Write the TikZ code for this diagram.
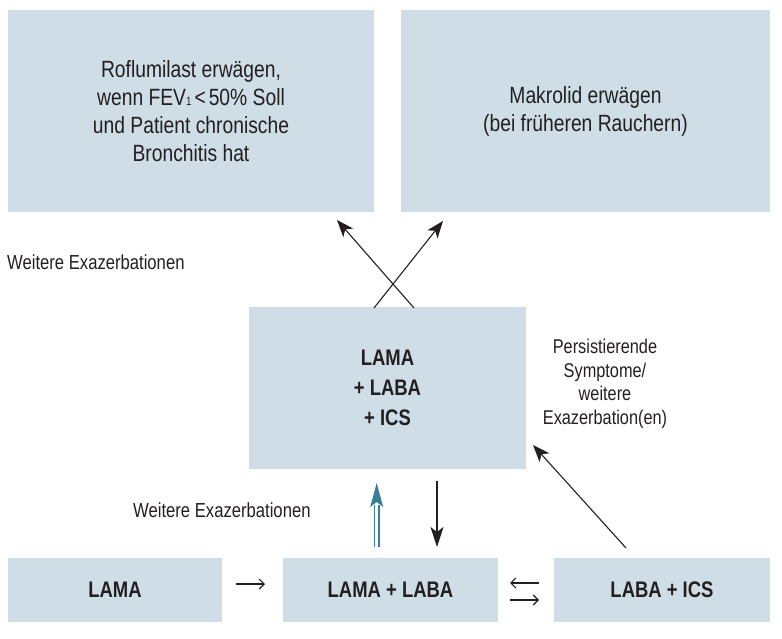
\documentclass[tikz,border=0pt]{standalone}
\usepackage{fontspec}
\setmainfont[FakeStretch=0.82]{Liberation Sans}
\usetikzlibrary{arrows.meta,calc}
\definecolor{boxfill}{HTML}{CFDEE6}
\definecolor{arrowteal}{HTML}{3A7D98}
\definecolor{txt}{HTML}{231F20}
\begin{document}
\begin{tikzpicture}[x=1pt,y=-1pt,
  box/.style={fill=boxfill, draw=none, inner sep=0pt, align=center, text=txt},
  toptext/.style={font=\fontsize{23.5}{28}\selectfont},
  boldtext/.style={font=\fontsize{22.5}{30}\selectfont\bfseries},
  lbl/.style={font=\fontsize{20.3}{23.5}\selectfont, text=txt, inner sep=0pt, align=center},
  arr/.style={line width=1.1pt, draw=txt, -{Stealth[length=17pt,width=13pt,inset=4.5pt]}},
  smallarr/.style={line width=1.1pt, draw=txt, -{Straight Barb[length=5pt,width=10pt]}}]
\useasboundingbox (0,0) rectangle (782,639);

% boxes
\node[box, toptext, minimum width=366pt, minimum height=202pt] (tl) at (191,111)
  {Roflumilast erwägen,\\ wenn FEV{\fontsize{12}{12}\selectfont 1}\hspace{3pt}<\hspace{3pt}50\% Soll\\ und Patient chronische\\ Bronchitis hat};
\node[box, toptext, minimum width=369pt, minimum height=202pt] (tr) at (585.5,111)
  {Makrolid erwägen\\ (bei früheren Rauchern)};
\node[box, boldtext, minimum width=277pt, minimum height=162pt] (mid) at (387.5,388)
  {LAMA\\ + LABA\\ + ICS};
\node[box, boldtext, minimum width=214pt, minimum height=64pt] (b1) at (115,590) {LAMA};
\node[box, boldtext, minimum width=215pt, minimum height=64pt] (b2) at (390.5,590) {LAMA + LABA};
\node[box, boldtext, minimum width=216pt, minimum height=64pt] (b3) at (662,590) {LABA + ICS};

% labels
\node[lbl, anchor=west] (l1) at (7,262) {Weitere Exazerbationen};
\node[lbl, anchor=west] (l2) at (133,510) {Weitere Exazerbationen};
\node[lbl, font=\fontsize{19.9}{23.5}\selectfont] (l3) at (605,384) {Persistierende\\ Symptome/\\ weitere\\ Exazerbation(en)};

% connector end points
\coordinate (xA) at (414,308);
\coordinate (xAe) at (337,220);
\coordinate (xB) at (374,308);
\coordinate (xBe) at (443,221);
\coordinate (dS) at (437,481);
\coordinate (dE) at (437,547);
\coordinate (uS) at (376.7,547);
\coordinate (uE) at (376.7,505);
\coordinate (uT) at (376.7,483);
\coordinate (gS) at (626,548);
\coordinate (gE) at (533,445);
\coordinate (h1S) at (236,584);
\coordinate (h1E) at (265,584);
\coordinate (h2S) at (539,583);
\coordinate (h2E) at (510,583);
\coordinate (h3S) at (510,600);
\coordinate (h3E) at (539,600);

% arrows
\draw[arr] (xA) -- (xAe);
\draw[arr] (xB) -- (xBe);
\draw[arr, -{Stealth[length=20pt,width=13pt,inset=5pt]}] (dS) -- (dE);
\draw[arr] (gS) -- (gE);
\draw[draw=arrowteal, line width=1.3pt, double=white, double distance=3.2pt] (uS) -- (uE);
\fill[arrowteal] ($(uT)+(-6.5,24)$) -- (uT) -- ($(uT)+(6.5,24)$) -- ($(uT)+(0,19)$) -- cycle;
\draw[smallarr] (h1S) -- (h1E);
\draw[smallarr] (h2S) -- (h2E);
\draw[smallarr] (h3S) -- (h3E);
\end{tikzpicture}
\end{document}
